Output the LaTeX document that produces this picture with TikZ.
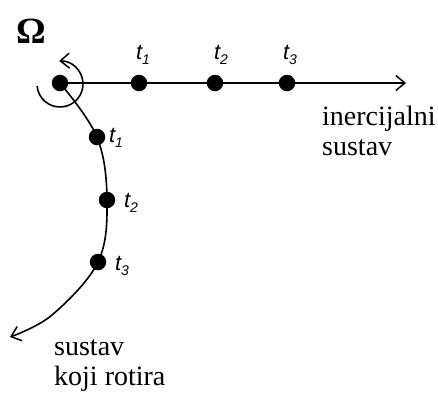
\documentclass[tikz,border=0pt]{standalone}
\usepackage{fontspec}
\setmainfont{Liberation Serif}
\setsansfont{Liberation Sans}
\usetikzlibrary{arrows.meta}
\newcommand\tlab[1]{{\sffamily\itshape\fontsize{22}{22}\selectfont t\raisebox{-5pt}{\fontsize{14}{14}\selectfont #1}}}
\tikzset{
  dot/.style={circle,fill=black,inner sep=0pt,minimum size=16.5pt},
  line/.style={line width=1.6pt,black},
  arr/.style={-{Straight Barb[length=9pt,width=15pt,line width=1.5pt]}},
  lbl/.style={inner sep=0pt,font=\fontsize{28}{30}\selectfont,align=left,anchor=base west},
  tl/.style={inner sep=0pt}
}
\begin{document}
\begin{tikzpicture}[x=1pt,y=-1pt]
\useasboundingbox (0,0) rectangle (438,392);
% Omega
\node[inner sep=0pt,anchor=base] (om) at (31,43) {\fontsize{37}{37}\selectfont\bfseries Ω};
% dots
\node[dot] (o) at (60,83) {};
\node[dot] (h1) at (139,83) {};
\node[dot] (h2) at (215,83) {};
\node[dot] (h3) at (287,83) {};
\node[dot] (r1) at (97,137) {};
\node[dot] (r2) at (107,200) {};
\node[dot] (r3) at (98,262) {};
\coordinate (hend) at (406,83);
\coordinate (rend) at (10,337);
% horizontal axis
\draw[line,arr] (o.center) -- (hend);
% curved path
\draw[line,arr] plot[smooth,tension=0.6] coordinates {(o.center) (r1.center) (r2.center) (r3.center) (52,315) (rend)};
% rotation arrow
\draw[line,arr] (60,84) ++(-185:23) arc[start angle=-185,end angle=-452,radius=23];
% time labels
\node[tl] (lh1) at (143,55) {\tlab{1}};
\node[tl] (lh2) at (221,55) {\tlab{2}};
\node[tl] (lh3) at (290,55) {\tlab{3}};
\node[tl] (lr1) at (116,138) {\tlab{1}};
\node[tl] (lr2) at (131,203) {\tlab{2}};
\node[tl] (lr3) at (122,266) {\tlab{3}};
% texts
\node[lbl] (in) at (322,155) {inercijalni\\sustav};
\node[lbl] (ro) at (54,385) {sustav\\koji rotira};
\end{tikzpicture}
\end{document}
